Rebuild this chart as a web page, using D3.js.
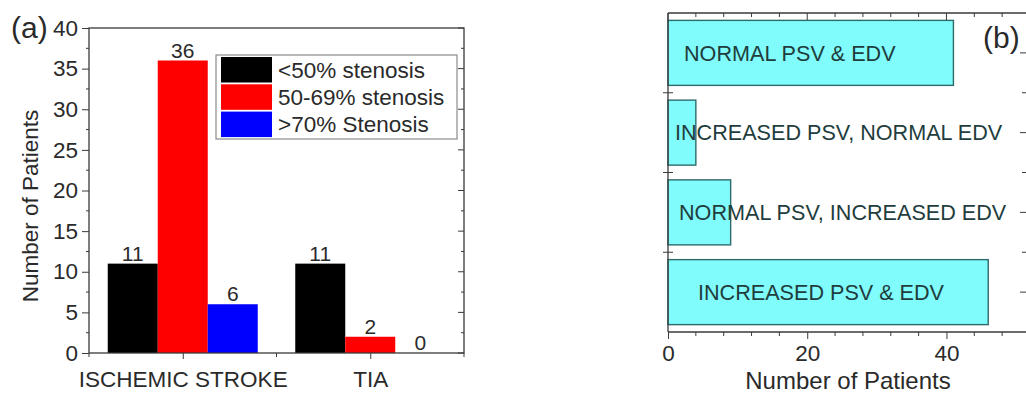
<!DOCTYPE html>
<html>
<head>
<meta charset="utf-8">
<script src="https://cdn.jsdelivr.net/npm/d3@7"></script>
<style>
  html, body { margin: 0; padding: 0; background: #fff; }
  svg { display: block; font-family: "Liberation Sans", Arial, sans-serif; }
</style>
</head>
<body>
<svg id="chart" width="1026" height="394"></svg>
<script>
// ---------- DATA ----------
// Panel (a)
const groupsA = ["ISCHEMIC STROKE", "TIA"];
const seriesA = ["<50% stenosis", "50-69% stenosis", ">70% Stenosis"];
const lt50 = [11, 11];
const s50to69 = [36, 2];
const gt70 = [6, 0];
const yTicksA = [0, 5, 10, 15, 20, 25, 30, 35, 40];
const colorsA = ["#000000", "#ff0000", "#0000ff"];

// Panel (b)
const categoriesB = ["NORMAL PSV & EDV", "INCREASED PSV, NORMAL EDV", "NORMAL PSV, INCREASED EDV", "INCREASED PSV & EDV"];
const patientsB = [41, 4, 9, 46];
const xTicksB = [0, 20, 40];

// ---------- DRAW ----------
const svg = d3.select("#chart");
const FONT = 22.5;
const frameColor = "#3a3a3a";
const textColor = "#2a2a2a";

// ===== Panel (a) =====
const A = {left: 89, right: 464, top: 28, bottom: 353};
const xA = d3.scaleLinear().domain([0.5, 2.5]).range([A.left, A.right]);
const yA = d3.scaleLinear().domain([0, 40]).range([A.bottom, A.top]);
const gA = svg.append("g");
const seriesVals = [lt50, s50to69, gt70];
const barW = 0.8 / 3;

// bars
seriesVals.forEach((vals, si) => {
  gA.selectAll(null).data(vals).enter().append("rect")
    .attr("x", (d, gi) => xA(gi + 1 + (si - 1.5) * barW))
    .attr("width", (d, gi) => xA(gi + 1 + (si - 0.5) * barW) - xA(gi + 1 + (si - 1.5) * barW))
    .attr("y", d => yA(d))
    .attr("height", d => yA(0) - yA(d))
    .attr("fill", colorsA[si]);
  gA.selectAll(null).data(vals).enter().append("text")
    .attr("x", (d, gi) => xA(gi + 1 + (si - 1) * barW))
    .attr("y", d => yA(d) - 3)
    .attr("text-anchor", "middle")
    .attr("font-size", 21)
    .attr("fill", textColor)
    .text(d => d);
});

// frame
gA.append("rect").attr("x", A.left).attr("y", A.top)
  .attr("width", A.right - A.left).attr("height", A.bottom - A.top)
  .attr("fill", "none").attr("stroke", frameColor).attr("stroke-width", 1.3);

// left axis
const yAxisA = gA.append("g").attr("transform", `translate(${A.left},0)`)
  .call(d3.axisLeft(yA).tickValues(yTicksA).tickSize(7).tickPadding(4));
yAxisA.select(".domain").remove();
yAxisA.selectAll("line").attr("stroke", frameColor);
yAxisA.selectAll("text").attr("font-size", FONT).attr("fill", textColor).attr("font-family", null);
// minor left
gA.selectAll(null).data(d3.range(2.5, 40, 5)).enter().append("line")
  .attr("x1", A.left - 3).attr("x2", A.left).attr("y1", d => yA(d)).attr("y2", d => yA(d))
  .attr("stroke", frameColor);
// right ticks (inward)
gA.selectAll(null).data(yTicksA).enter().append("line")
  .attr("x1", A.right - 6).attr("x2", A.right).attr("y1", d => yA(d)).attr("y2", d => yA(d))
  .attr("stroke", frameColor);
gA.selectAll(null).data(d3.range(2.5, 40, 5)).enter().append("line")
  .attr("x1", A.right - 3).attr("x2", A.right).attr("y1", d => yA(d)).attr("y2", d => yA(d))
  .attr("stroke", frameColor);

// bottom axis
const xAxisA = gA.append("g").attr("transform", `translate(0,${A.bottom})`)
  .call(d3.axisBottom(xA).tickValues([1, 2]).tickFormat(i => groupsA[i - 1]).tickSize(6).tickPadding(12));
xAxisA.select(".domain").remove();
xAxisA.selectAll("line").attr("stroke", frameColor);
xAxisA.selectAll("text").attr("font-size", FONT).attr("fill", textColor).attr("font-family", null);
gA.selectAll(null).data([0.5, 1.5, 2.5]).enter().append("line")
  .attr("x1", d => xA(d)).attr("x2", d => xA(d)).attr("y1", A.bottom).attr("y2", A.bottom + 4)
  .attr("stroke", frameColor);

// y title
gA.append("text").attr("transform", `translate(38,206) rotate(-90)`)
  .attr("text-anchor", "middle").attr("font-size", 22.5).attr("fill", textColor)
  .text("Number of Patients");
// panel label
gA.append("text").attr("x", 11).attr("y", 38).attr("font-size", 30).attr("fill", textColor).text("(a)");

// legend
const leg = gA.append("g");
leg.append("rect").attr("x", 216).attr("y", 55).attr("width", 241).attr("height", 84)
  .attr("fill", "#fff").attr("stroke", "#8a8a8a").attr("stroke-width", 1.2);
seriesA.forEach((s, i) => {
  const y0 = 57 + i * 27.3;
  leg.append("rect").attr("x", 221).attr("y", y0).attr("width", 51).attr("height", 25.5)
    .attr("fill", colorsA[i]);
  leg.append("text").attr("x", 278).attr("y", y0 + 12.75).attr("dy", "0.36em")
    .attr("font-size", FONT).attr("fill", textColor).text(s);
});

// ===== Panel (b) =====
const B = {left: 668, right: 1030, top: 13, bottom: 332};
const xB = d3.scaleLinear().domain([0, 52]).range([B.left, B.right]);
const yB = d3.scaleBand().domain(categoriesB).range([B.top, B.bottom]).padding(0);
const gB = svg.append("g");
const barFrac = 0.815;

gB.selectAll(null).data(patientsB).enter().append("rect")
  .attr("x", xB(0))
  .attr("y", (d, i) => yB(categoriesB[i]) + yB.bandwidth() * (1 - barFrac) / 2)
  .attr("width", d => xB(d) - xB(0))
  .attr("height", yB.bandwidth() * barFrac)
  .attr("fill", "#80fcfc")
  .attr("stroke", "#2f6b6b").attr("stroke-width", 1.4);

// in-bar labels (annotation layout: text left edge in px from axis)
const labelOffset = [16, 7, 11, 30];
gB.selectAll(null).data(categoriesB).enter().append("text")
  .attr("x", (d, i) => B.left + labelOffset[i])
  .attr("y", d => yB(d) + yB.bandwidth() / 2)
  .attr("dy", "0.36em")
  .attr("font-size", 21.6).attr("fill", "#1f3d3d")
  .text(d => d);

// frame lines
gB.append("line").attr("x1", B.left).attr("x2", B.right).attr("y1", B.top).attr("y2", B.top).attr("stroke", frameColor).attr("stroke-width", 1.3);
gB.append("line").attr("x1", B.left).attr("x2", B.right).attr("y1", B.bottom).attr("y2", B.bottom).attr("stroke", frameColor).attr("stroke-width", 1.3);
gB.append("line").attr("x1", B.left).attr("x2", B.left).attr("y1", B.top).attr("y2", B.bottom).attr("stroke", frameColor).attr("stroke-width", 1.3);
gB.append("line").attr("x1", B.right).attr("x2", B.right).attr("y1", B.top).attr("y2", B.bottom).attr("stroke", frameColor).attr("stroke-width", 1.3);

// bottom axis
const xAxisB = gB.append("g").attr("transform", `translate(0,${B.bottom})`)
  .call(d3.axisBottom(xB).tickValues(xTicksB).tickSize(7).tickPadding(6));
xAxisB.select(".domain").remove();
xAxisB.selectAll("line").attr("stroke", frameColor);
xAxisB.selectAll("text").attr("font-size", FONT).attr("fill", textColor).attr("font-family", null);
const minorB = d3.range(4, 52, 4).filter(v => v % 20 !== 0);
gB.selectAll(null).data(minorB).enter().append("line")
  .attr("x1", d => xB(d)).attr("x2", d => xB(d)).attr("y1", B.bottom).attr("y2", B.bottom + 4)
  .attr("stroke", frameColor);
// top ticks (inward)
gB.selectAll(null).data(xTicksB).enter().append("line")
  .attr("x1", d => xB(d)).attr("x2", d => xB(d)).attr("y1", B.top).attr("y2", B.top + 7)
  .attr("stroke", frameColor);
gB.selectAll(null).data(minorB).enter().append("line")
  .attr("x1", d => xB(d)).attr("x2", d => xB(d)).attr("y1", B.top).attr("y2", B.top + 4)
  .attr("stroke", frameColor);
// left & right category ticks
const bounds = categoriesB.slice(1).map(c => yB(c));
gB.selectAll(null).data(bounds).enter().append("line")
  .attr("x1", B.left - 5).attr("x2", B.left + 5).attr("y1", d => d).attr("y2", d => d)
  .attr("stroke", frameColor);
gB.selectAll(null).data(bounds).enter().append("line")
  .attr("x1", B.right - 8).attr("x2", B.right).attr("y1", d => d).attr("y2", d => d)
  .attr("stroke", frameColor);
gB.selectAll(null).data(categoriesB).enter().append("line")
  .attr("x1", B.right - 10).attr("x2", B.right).attr("y1", d => yB(d) + yB.bandwidth() / 2).attr("y2", d => yB(d) + yB.bandwidth() / 2)
  .attr("stroke", frameColor);

// x title
gB.append("text").attr("x", 848).attr("y", 389).attr("text-anchor", "middle")
  .attr("font-size", 24).attr("fill", textColor).text("Number of Patients");
// panel label
gB.append("text").attr("x", 983).attr("y", 48).attr("font-size", 30).attr("fill", textColor).text("(b)");
</script>
</body>
</html>
